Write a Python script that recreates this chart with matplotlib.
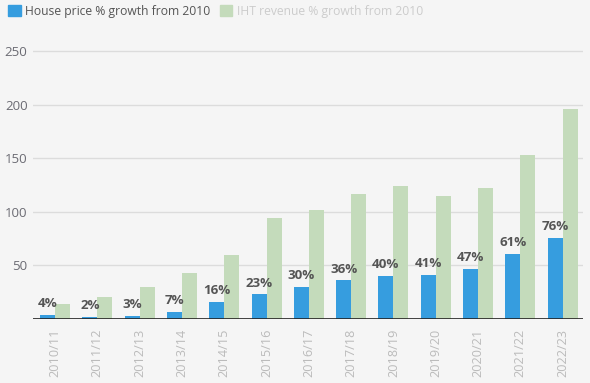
import numpy as np
import matplotlib.pyplot as plt
from matplotlib.patches import Patch

plt.rcParams['font.family'] = ['Open Sans', 'DejaVu Sans']

years = ['2010/11', '2011/12', '2012/13', '2013/14', '2014/15', '2015/16', '2016/17',
         '2017/18', '2018/19', '2019/20', '2020/21', '2021/22', '2022/23']
house = [4, 2, 3, 7, 16, 23, 30, 36, 40, 41, 47, 61, 76]
iht = [14, 21, 30, 43, 60, 94, 102, 117, 124, 115, 122, 153, 196]

blue = '#369ddf'
green = '#c4dbbb'
bg = '#f5f5f5'

fig = plt.figure(figsize=(5.9, 3.83), dpi=100, facecolor=bg)
ax = fig.add_axes([0.056, 0.167, 0.932, 0.714], facecolor=bg)

x = np.arange(len(years))
w = 0.355
ax.bar(x - w/2, house, w, color=blue, zorder=3)
ax.bar(x + w/2, iht, w, color=green, zorder=3)

for xi, v in zip(x, house):
    ax.text(xi - w/2, v + 4.5, f'{v}%', ha='center', va='bottom', fontsize=9.6,
            fontweight='bold', color='#555555', zorder=4)

ax.set_xlim(-0.52, 12.48)
ax.set_ylim(0, 255)
ax.set_yticks([50, 100, 150, 200, 250])
ax.grid(axis='y', color='#dcdcdc', linewidth=1, zorder=0)
ax.axhline(0, color='#222222', linewidth=1.2, zorder=5)
for s in ax.spines.values():
    s.set_visible(False)

ax.set_xticks(x)
ax.set_xticklabels(years, rotation=90, fontsize=9.1, color='#bbbbbb')
ax.tick_params(axis='x', length=0, pad=7)
ax.tick_params(axis='y', length=0, pad=4, labelsize=9.5, labelcolor='#6b6b73')

handles = [Patch(color=blue), Patch(color=green)]
leg = fig.legend(handles, ['House price % growth from 2010', 'IHT revenue % growth from 2010'],
                 loc='upper left', bbox_to_anchor=(0.0, 1.01), ncol=2, frameon=False,
                 fontsize=8.7, handlelength=1.0, handleheight=1.0, handletextpad=0.4,
                 columnspacing=0.8, borderaxespad=0.3)
leg.get_texts()[0].set_color('#555555')
leg.get_texts()[1].set_color('#cccccc')

fig.savefig('out.png', dpi=100, facecolor=bg)
